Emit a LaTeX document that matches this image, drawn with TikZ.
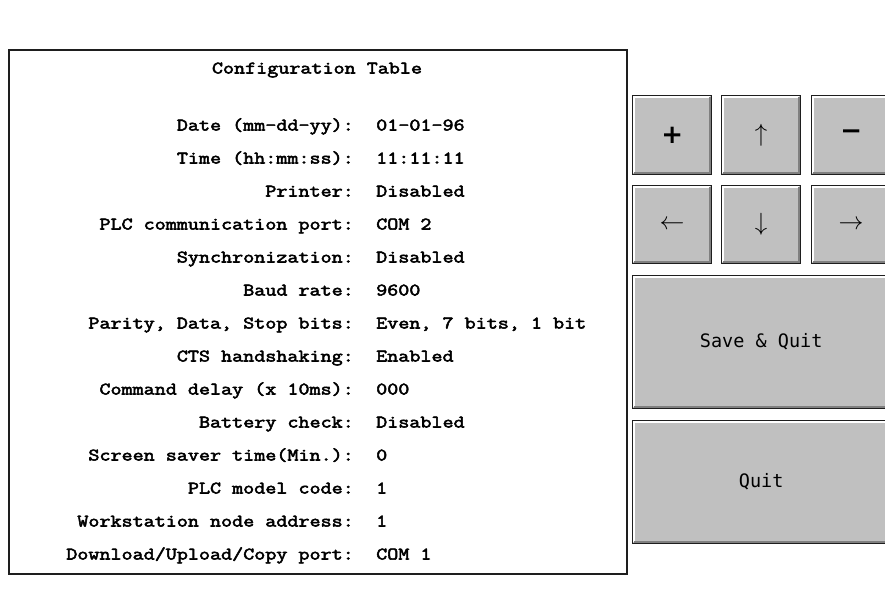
\documentclass[tikz,border=0pt]{standalone}
\usepackage{fontspec}
\newfontfamily\tblfont[FakeStretch=1.22,FakeBold=3]{Latin Modern Mono}
\newfontfamily\btnfont{DejaVu Sans Mono}
\newfontfamily\symfont{DejaVu Sans}
\definecolor{btngray}{RGB}{192,192,192}
\definecolor{shadegray}{RGB}{128,128,128}
\definecolor{edgeblack}{RGB}{30,30,30}
\newcommand\bevel[1]{%
  \draw[white,line width=1.6pt] ([shift={(2.2,-2.2)}]#1.south west) |- ([shift={(-2.2,2.2)}]#1.north east);
  \draw[shadegray,line width=2.4pt] ([shift={(2.4,-2.4)}]#1.south west) -| ([shift={(-2.4,2.4)}]#1.north east);
}
\begin{document}
\begin{tikzpicture}[x=1pt,y=-1pt,
  lbl/.style={anchor=base east,inner sep=0pt,font=\tblfont\fontsize{17.6}{20}\selectfont},
  val/.style={anchor=base west,inner sep=0pt,font=\tblfont\fontsize{17.6}{20}\selectfont},
  btn/.style={draw=edgeblack,line width=1.3pt,fill=btngray,inner sep=0pt,anchor=north west,
    font=\btnfont\fontsize{18.5}{20}\selectfont},
  pm/.style={font=\symfont\bfseries\fontsize{26}{26}\selectfont},
  arr/.style={font=\fontsize{23}{23}\selectfont}]
\useasboundingbox (0,0) rectangle (885,604);
\fill[white] (0,0) rectangle (885,604);
% table
\node[draw=edgeblack,line width=1.6pt,minimum width=618pt,minimum height=524pt,anchor=north west,inner sep=0pt] (table) at (8,49) {};
\node[anchor=base,inner sep=0pt,font=\tblfont\fontsize{17.6}{20}\selectfont] (title) at (317,73.5) {Configuration Table};
\foreach \lab/\val [count=\i from 0] in {
  {Date (mm-dd-yy):}/{01-01-96},
  {Time (hh:mm:ss):}/{11:11:11},
  {Printer:}/{Disabled},
  {PLC communication port:}/{COM 2},
  {Synchronization:}/{Disabled},
  {Baud rate:}/{9600},
  {Parity, Data, Stop bits:}/{Even, 7 bits, 1 bit},
  {CTS handshaking:}/{Enabled},
  {Command delay (x 10ms):}/{000},
  {Battery check:}/{Disabled},
  {Screen saver time(Min.):}/{0},
  {PLC model code:}/{1},
  {Workstation node address:}/{1},
  {Download/Upload/Copy port:}/{COM 1}}{
  \node[lbl] (l\i) at (354,{130.5+33*\i}) {\lab};
  \node[val] (v\i) at (376,{130.5+33*\i}) {\val};
}
% buttons
\node[btn,minimum width=79pt,minimum height=79pt,pm] (plus) at (632,95) {+};
\node[btn,minimum width=79pt,minimum height=79pt,arr] (up) at (721,95) {$\uparrow$};
\node[btn,minimum width=79pt,minimum height=79pt,pm] (minus) at (811,95) {−};
\node[btn,minimum width=79pt,minimum height=78pt,arr] (left) at (632,185) {$\leftarrow$};
\node[btn,minimum width=79pt,minimum height=78pt,arr] (down) at (721,185) {$\downarrow$};
\node[btn,minimum width=79pt,minimum height=78pt,arr] (right) at (811,185) {$\rightarrow$};
\node[btn,minimum width=257pt,minimum height=133pt] (save) at (632,275) {Save \& Quit};
\node[btn,minimum width=257pt,minimum height=123pt] (quit) at (632,420) {Quit};
\foreach \b in {plus,up,minus,left,down,right,save,quit}{\bevel{\b}}
\end{tikzpicture}
\end{document}
